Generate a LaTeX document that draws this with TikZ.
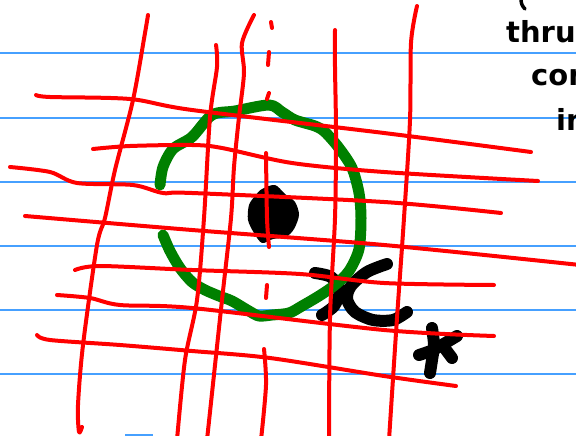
\documentclass[tikz,border=0pt]{standalone}
\usepackage{fontspec}
\setsansfont{DejaVu Sans}
\definecolor{ruleblue}{RGB}{70,160,255}
\definecolor{inkgreen}{RGB}{0,128,0}
\definecolor{inkred}{RGB}{255,0,0}
\begin{document}
\begin{tikzpicture}[x=1pt,y=-1pt,
  redline/.style={draw=inkred, line width=4pt, line cap=round, line join=round},
  blueline/.style={draw=ruleblue, line width=1.8pt},
  greenstroke/.style={draw=inkgreen, line width=11pt, line cap=round, line join=round},
  inkstroke/.style={draw=black, line width=12pt, line cap=round, line join=round},
  handtext/.style={font=\sffamily\bfseries\fontsize{29}{29}\selectfont, anchor=base west, inner sep=0pt, text=black}]
\useasboundingbox (0,0) rectangle (576,436);
\clip (0,0) rectangle (576,436);
\fill[white] (0,0) rectangle (576,436);
% ruled lines
\foreach \yy in {53,118,182,246,310,374}
  \draw[blueline] (0,\yy) -- (576,\yy);
\fill[ruleblue] (125,433.5) rectangle (153,436);
% text at the right edge
\node[handtext] (t1) at (506,43) {thru};
\node[handtext] (t2) at (531,85) {con};
\node[handtext] (t3) at (556,130) {in};
\draw[black, line width=3.5pt, line cap=round] (521,0) to[bend right=20] (525,9);
% black marks
\fill[black] plot[smooth cycle] coordinates {(262,189) (275,185) (285,194) (295,202) (299,215) (294,229) (286,237) (273,239) (262,243) (254,233) (248,220) (249,205) (255,196)};
\draw[inkstroke] plot[smooth] coordinates {(315,273) (331,277) (340,290) (334,306) (322,315)};
\draw[inkstroke] plot[smooth] coordinates {(387,264) (367,272) (351,286) (347,299) (355,312) (373,320) (393,320) (407,312)};
\draw[inkstroke] plot[smooth] coordinates {(432,328) (434,345) (432,360) (430,373)};
\draw[inkstroke] plot[smooth] coordinates {(419,355) (433,350) (447,342) (457,336)};
\draw[inkstroke] (446,350) -- (452,358);
% green arc
\draw[greenstroke] plot[smooth] coordinates {(160,185) (163,167) (173,149) (192,137) (212,115) (235,111) (269,105) (282,112) (295,120) (315,126) (325,132) (339,148) (352,168) (359,193) (361,218) (359,249) (349,271) (335,285) (319,296) (302,306) (289,313) (272,315) (259,316) (249,311) (232,301) (219,296) (205,290) (192,282) (180,268) (170,251) (163,235)};
% red horizontal lines
\draw[redline] plot[smooth] coordinates {(36,95) (50,97) (130,99) (192,110) (384,133) (531,152)};
\draw[redline] plot[smooth] coordinates {(93,149) (130,146) (192,145) (222,148) (292,163) (384,172) (538,181)};
\draw[redline] plot[smooth] coordinates {(10,167) (50,172) (77,183) (133,185) (163,193) (192,193) (384,202) (501,213)};
\draw[redline] plot[smooth] coordinates {(25,216) (192,230) (384,245) (580,265)};
\draw[redline] plot[smooth] coordinates {(75,270) (100,266) (192,270) (300,274) (384,283) (494,285)};
\draw[redline] plot[smooth] coordinates {(57,295) (90,298) (120,305) (192,308) (384,330) (494,336)};
\draw[redline] plot[smooth] coordinates {(37,335) (50,340) (120,345) (192,351) (270,358) (384,376) (456,386)};
% red vertical lines
\draw[redline] plot[smooth] coordinates {(148,15) (145,33) (133,100) (115,170) (105,218) (97,245) (83,345) (78,405) (79,432) (82,427)};
\draw[redline] plot[smooth] coordinates {(216,45) (217,67) (210,117) (204,218) (197,300) (185,360) (177,440)};
\draw[redline] plot[smooth] coordinates {(254,15) (242,43) (244,73) (239,117) (234,167) (231,218) (222,300) (207,440)};
\draw[redline] (271,22) -- (272,28);
\draw[redline] (269,52) -- (268,65);
\draw[redline] (269,93) -- (267,99);
\draw[redline] plot[smooth] coordinates {(266,153) (267,218) (269,247)};
\draw[redline] (267,285) -- (266,298);
\draw[redline] plot[smooth] coordinates {(264,349) (266,385) (261,440)};
\draw[redline] plot[smooth] coordinates {(335,30) (335,67) (336,133) (335,218) (330,318) (329,440)};
\draw[redline] plot[smooth] coordinates {(417,6) (411,43) (410,120) (404,218) (397,318) (389,440)};
\end{tikzpicture}
\end{document}
